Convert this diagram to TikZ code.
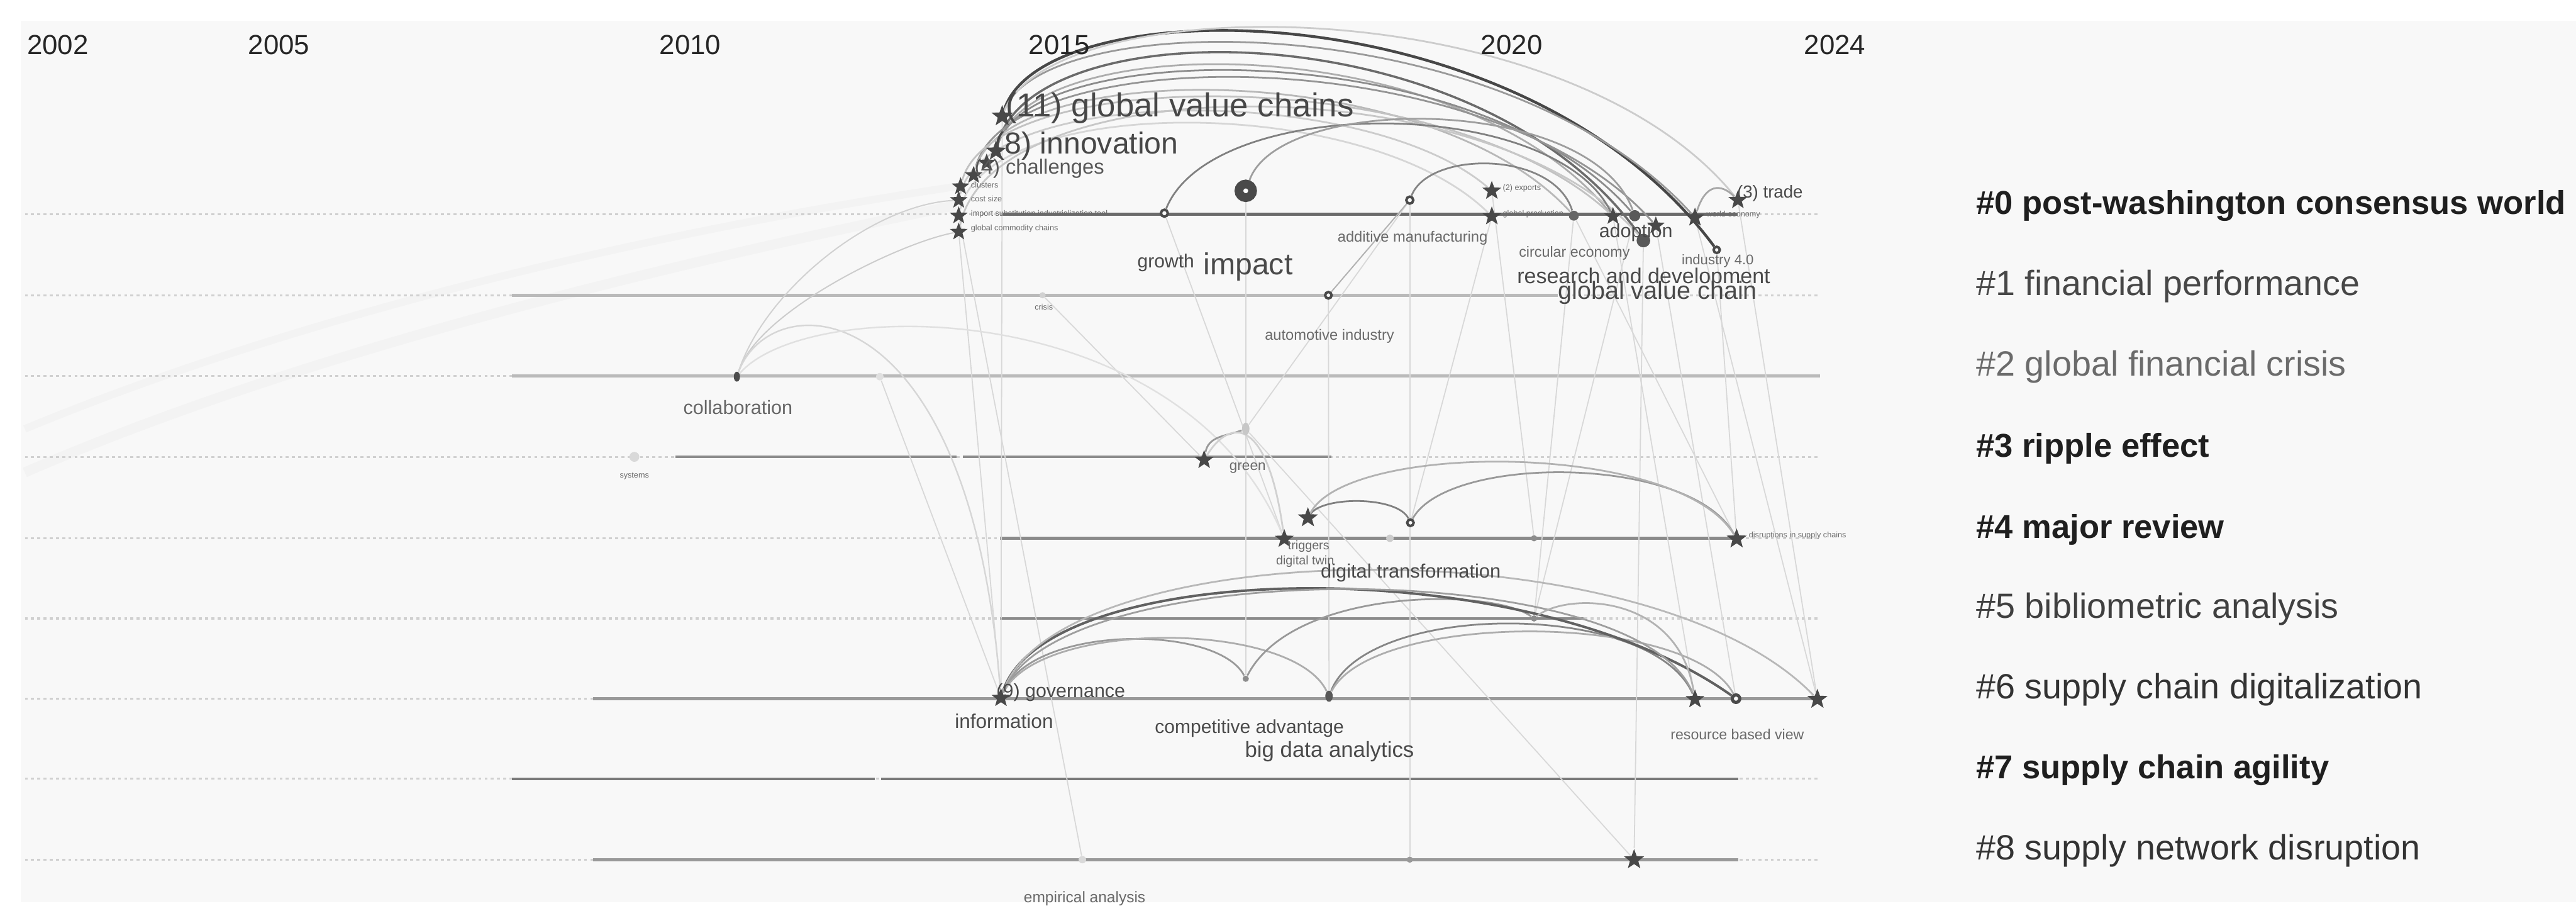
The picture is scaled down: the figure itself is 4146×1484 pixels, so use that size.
\documentclass[tikz,border=0pt]{standalone}
\usepackage{fontspec}
\setmainfont{Liberation Sans}
\usetikzlibrary{shapes.geometric}
\pgfdeclarelayer{bg}
\pgfdeclarelayer{mid}
\pgfsetlayers{bg,mid,main}
\definecolor{panel}{HTML}{F8F8F8}
\definecolor{dotc}{HTML}{D0D0D0}
\definecolor{stargray}{HTML}{484848}
\definecolor{ringc}{HTML}{4A4A4A}
\definecolor{labc}{HTML}{4A4A4A}
\definecolor{smallc}{HTML}{6A6A6A}
\definecolor{faintc}{HTML}{D8D8D8}
\definecolor{bandc}{HTML}{F3F3F3}
\tikzset{
  st/.style={star, star points=5, star point ratio=2.4, fill=stargray, draw=none, inner sep=0pt, minimum size=#1},
  st/.default=8pt,
  ringn/.style={circle, draw=ringc, fill=panel, line width=1pt, inner sep=0pt, minimum size=#1},
  ringn/.default=2.8pt,
  dotn/.style={circle, fill=#1, draw=none, inner sep=0pt, minimum size=3pt},
  lab/.style={font=\fontsize{#1}{#1}\selectfont, inner sep=0pt, anchor=base west, text=labc},
  tlab/.style={font=\fontsize{3.2}{3.2}\selectfont, inner sep=0pt, anchor=west, text=smallc},
  yr/.style={font=\fontsize{11.1}{11.1}\selectfont, inner sep=0pt, anchor=base, text=black!85},
  cb/.style={font=\fontsize{13.3}{13.3}\selectfont\bfseries, inner sep=0pt, anchor=base west, text=#1},
  cn/.style={font=\fontsize{14.1}{14.1}\selectfont, inner sep=0pt, anchor=base west, text=#1},
  dotl/.style={draw=dotc, line width=0.8pt, dash pattern=on 1.2pt off 1.3pt},
  rowl/.style={line width=1.2pt, draw=#1},
  arcl/.style={draw=#1, line width=0.7pt},
  faint/.style={draw=faintc, line width=0.45pt},
}
\begin{document}
\begin{tikzpicture}[x=0.25pt,y=-0.25pt]
\useasboundingbox (0,0) rectangle (4146,1484);
\begin{pgfonlayer}{bg}
\fill[white] (0,0) rectangle (4146,1484);
\fill[panel] (33,33) rectangle (4146,1452);
% faint wide bands on the left
\draw[bandc, line width=4pt] (40,760) .. controls (500,560) and (1100,420) .. (1540,330);
\draw[bandc, line width=3pt] (40,690) .. controls (450,520) and (1000,380) .. (1540,300);
\foreach \yy in {345,475,605,735,866,995,1124,1253,1383} \draw[dotl] (40,\yy) -- (2925,\yy);
\draw[rowl=black!58] (1611,345) -- (2797,345);
\draw[rowl=black!27] (824,475) -- (2507,475);
\draw[rowl=black!27] (824,605) -- (2929,605);
\draw[rowl=black!45] (1087,735) -- (1540,735);
\draw[rowl=black!45] (1550,735) -- (2143,735);
\draw[rowl=black!46] (1609,866) -- (2795,866);
\draw[rowl=black!46] (1609,995) -- (2549,995);
\draw[rowl=black!40] (954,1124) -- (2925,1124);
\draw[rowl=black!52] (824,1253) -- (1408,1253);
\draw[rowl=black!52] (1418,1253) -- (2798,1253);
\draw[rowl=black!40] (954,1383) -- (2798,1383);
\end{pgfonlayer}

% year axis
\node[yr] (y2002) at (93,88) {2002};
\node[yr] (y2005) at (449,88) {2005};
\node[yr] (y2010) at (1111,88) {2010};
\node[yr] (y2015) at (1705,88) {2015};
\node[yr] (y2020) at (2433,88) {2020};
\node[yr] (y2024) at (2953,88) {2024};

% cluster labels
\node[cb=black!88] (c0) at (3180,345) {\#0 post-washington consensus world};
\node[cn=black!72] (c1) at (3180,475) {\#1 financial performance};
\node[cn=black!58] (c2) at (3180,605) {\#2 global financial crisis};
\node[cb=black!88] (c3) at (3180,735) {\#3 ripple effect};
\node[cb=black!88] (c4) at (3180,866) {\#4 major review};
\node[cn=black!75] (c5) at (3180,995) {\#5 bibliometric analysis};
\node[cn=black!80] (c6) at (3180,1124) {\#6 supply chain digitalization};
\node[cb=black!88] (c7) at (3180,1253) {\#7 supply chain agility};
\node[cn=black!80] (c8) at (3180,1383) {\#8 supply network disruption};

% row 0 nodes
\node[st=7.5pt] (s0a) at (1546,300) {};
\node[st=7.5pt] (s0b) at (1543,322) {};
\node[st=7.5pt] (s0c) at (1543,347) {};
\node[st=7.5pt] (s0d) at (1543,373) {};
\node[st=7.5pt] (s0ch) at (1567,282) {};
\node[st=7.5pt] (s0inb) at (1588,262) {};
\node[st=8.5pt] (s0in) at (1603,243) {};
\node[st=9pt] (s0gv) at (1613,187) {};
\node[ringn] (r0g) at (1874,343) {};
\node[circle, draw=ringc, line width=3.5pt, minimum size=5.5pt, inner sep=0pt, fill=white] (r0big) at (2005,307) {};
\node[ringn] (r0am) at (2269,322) {};
\node[st] (s0s) at (2401,307) {};
\node[st] (s0r) at (2401,348) {};
\node[dotn=black!60, minimum size=4pt] (n0ce) at (2533,347) {};
\node[st=7.5pt] (s0ad) at (2596,348) {};
\node[dotn=black!65, minimum size=4.5pt] (n0c) at (2631,347) {};
\node[dotn=black!65, minimum size=5.5pt] (n0big) at (2645,387) {};
\node[st=7.5pt] (s0x) at (2665,363) {};
\node[st] (s0y) at (2728,350) {};
\node[st] (s0tr) at (2797,322) {};
\node[ringn=2.5pt] (n0i4) at (2763,402) {};

\node[tlab] (t0a) at (1562,298) {clusters};
\node[tlab] (t0b) at (1562,320) {cost size};
\node[tlab] (t0c) at (1562,344) {import substitution industrialization tool};
\node[tlab] (t0d) at (1562,368) {global commodity chains};
\node[lab=13.35, text=black!72] (lgv) at (1618,188) {(11) global value chains};
\node[lab=12.2, text=black!72] (lin) at (1600,247) {(8) innovation};
\node[lab=8.3, text=black!65] (lch) at (1568,280) {(4) challenges};
\node[lab=7.6] (lgr) at (1830,431) {growth};
\node[lab=12.2] (lim) at (1936,442) {impact};
\node[lab=6, text=smallc] (lam) at (2152,389) {additive manufacturing};
\node[lab=5.9, text=smallc] (lce) at (2444,413) {circular economy};
\node[lab=7.7] (lad) at (2573,382) {adoption};
\node[lab=5.6, text=smallc] (li4) at (2706,426) {industry 4.0};
\node[lab=8.6] (lrd) at (2441,456) {research and development};
\node[lab=10] (lgvc) at (2507,481) {global value chain};
\node[lab=7] (ltr) at (2795,318) {(3) trade};
\node[tlab] (t0s) at (2418,303) {(2) exports};
\node[tlab] (t0r) at (2418,344) {global production};
\node[tlab] (t0y) at (2746,345) {world economy};

% row 1
\node[dotn=black!18, minimum size=2.5pt] (n1cr) at (1678,475) {};
\node[tlab, anchor=center] (t1cr) at (1680,494) {crisis};
\node[ringn=2.6pt] (r1ai) at (2138,475) {};
\node[lab=6, text=smallc] (lai) at (2035,547) {automotive industry};

% row 2
\node[ellipse, fill=black!70, minimum width=2.5pt, minimum height=4pt, inner sep=0pt] (n2co) at (1186,606) {};
\node[dotn=black!12] (n2f) at (1416,606) {};
\node[lab=7.75, text=black!60] (lco) at (1099,667) {collaboration};

% row 3
\node[dotn=black!15, minimum size=4pt] (n3sy) at (1021,735) {};
\node[tlab, anchor=center] (t3sy) at (1021,766) {systems};
\node[st] (s3g) at (1938,740) {};
\node[lab=5.7, text=smallc] (lgn) at (1978,757) {green};
\node[ellipse, fill=black!22, minimum width=3pt, minimum height=5pt, inner sep=0pt] (n3f) at (2005,690) {};

% row 4
\node[st] (s4a) at (2067,867) {};
\node[st=8.5pt] (s4b) at (2105,833) {};
\node[dotn=black!20] (n4f) at (2237,866) {};
\node[ringn=2.6pt] (r4) at (2270,841) {};
\node[dotn=black!45, minimum size=2.5pt] (n4s) at (2469,866) {};
\node[st=8.5pt] (s4e) at (2795,867) {};
\node[lab=5, text=smallc] (l4a) at (2072,884) {triggers};
\node[lab=5, text=smallc] (ldt) at (2053,908) {digital twin};
\node[lab=7.8] (ldtr) at (2125,930) {digital transformation};
\node[tlab] (t4e) at (2814,862) {disruptions in supply chains};

% row 5
\node[dotn=black!45, minimum size=2.5pt] (n5) at (2469,995) {};

% row 6
\node[st] (s6g) at (1611,1123) {};
\node[dotn=black!45, minimum size=2.5pt] (n6a) at (2005,1092) {};
\node[ellipse, fill=black!65, minimum width=3pt, minimum height=4.5pt, inner sep=0pt] (n6b) at (2139,1120) {};
\node[st] (s6c) at (2728,1125) {};
\node[ringn=3pt, line width=1.3pt] (r6d) at (2794,1124) {};
\node[st=8.5pt] (s6e) at (2925,1125) {};
\node[lab=7.7] (lgo) at (1603,1122) {(9) governance};
\node[lab=8] (lif) at (1536,1172) {information};
\node[lab=7.6] (lca) at (1858,1180) {competitive advantage};
\node[lab=8.8] (lbd) at (2003,1218) {big data analytics};
\node[lab=5.85, text=smallc] (lrb) at (2688,1190) {resource based view};

% row 8
\node[dotn=black!15] (n8a) at (1742,1383) {};
\node[dotn=black!40, minimum size=2.5pt] (n8b) at (2269,1383) {};
\node[st=8.5pt] (s8) at (2630,1383) {};
\node[lab=6.2, text=smallc] (lea) at (1647,1452) {empirical analysis};

\begin{pgfonlayer}{mid}
% faint straight links
\draw[faint] (s0gv) -- (s6g);
\draw[faint] (s0d) -- (s6g);
\draw[faint] (r0big) -- (n6a);
\draw[faint] (n0big) -- (s8);
\draw[faint] (r1ai) -- (n6b);
\draw[faint] (s0s) -- (n4s);
\draw[faint] (n0ce) -- (n5);
\draw[faint] (s0ad) -- (s6c);
\draw[faint] (s0r) -- (r4);
\draw[faint] (r0am) -- (n8b);
\draw[faint] (n1cr) -- (s3g);
\draw[faint] (s0y) -- (s6e);
\draw[faint] (n0i4) -- (s4e);
\draw[faint] (r0g) -- (s4a);
\draw[faint] (s0c) -- (n8a);
\draw[faint] (n3f) -- (s8);
\draw[faint] (n2f) -- (s6g);
\draw[faint] (n0ce) -- (s4e);
\draw[faint] (s0x) -- (r6d);
\draw[faint] (s0tr) -- (s6e);
\draw[faint] (r0am) -- (n3f);
\draw[faint] (n0c) -- (n5);
\draw[arcl=black!30, line width=0.5pt] (r1ai) -- (r0am);
% faint arcs from the left
\draw[arcl=black!20, line width=0.5pt] (n2co) .. controls (1220,500) and (1450,390) .. (s0d);
\draw[arcl=black!18, line width=0.5pt] (n2co) .. controls (1230,470) and (1400,330) .. (s0b);
\draw[arcl=black!16, line width=0.6pt] (n2co) .. controls (1240,458) and (1560,458) .. (s6g);
\draw[arcl=black!12, line width=0.6pt] (n2co) .. controls (1300,474) and (1900,474) .. (s4a);
% row 0 arcs
\draw[arcl=black!72, line width=1.1pt] (s0gv) .. controls (1680,-20) and (2450,-20) .. (n0i4);
\draw[arcl=black!40] (s0gv) .. controls (1680,10) and (2420,10) .. (s0y);
\draw[arcl=black!20] (s0gv) .. controls (1700,-20) and (2520,-20) .. (s0tr);
\draw[arcl=black!58, line width=0.9pt] (s0in) .. controls (1660,15) and (2380,15) .. (n0big);
\draw[arcl=black!32] (s0in) .. controls (1660,45) and (2350,45) .. (s0ad);
\draw[arcl=black!45] (s0in) .. controls (1660,58) and (2380,58) .. (n0c);
\draw[arcl=black!42] (s0ch) .. controls (1620,62) and (2400,62) .. (s0x);
\draw[arcl=black!28] (s0ch) .. controls (1620,92) and (2300,92) .. (n0ce);
\draw[arcl=black!24] (s0a) .. controls (1600,102) and (2330,102) .. (s0ad);
\draw[arcl=black!20] (s0b) .. controls (1590,135) and (2200,135) .. (s0s);
\draw[arcl=black!16] (s0c) .. controls (1590,150) and (2200,150) .. (s0r);
\draw[arcl=black!22] (s0d) .. controls (1600,105) and (2400,105) .. (n0big);
\draw[arcl=black!50] (r0g) .. controls (1950,152) and (2500,152) .. (s0ad);
\draw[arcl=black!38] (r0big) .. controls (2060,151) and (2560,151) .. (n0c);
\draw[arcl=black!48] (r0am) .. controls (2300,242) and (2500,242) .. (n0ce);
\draw[arcl=black!35] (s0y) .. controls (2745,295) and (2770,295) .. (s0tr);
% row 3 / 4 arcs
\draw[arcl=black!40] (s3g) to[out=80,in=200] (n3f);
\draw[arcl=black!18] (s3g) .. controls (1980,671) and (2040,671) .. (s4a);
\draw[arcl=black!50] (s4b) .. controls (2130,798) and (2250,798) .. (r4);
\draw[arcl=black!40] (r4) .. controls (2330,731) and (2720,731) .. (s4e);
\draw[arcl=black!30] (s4b) .. controls (2170,710) and (2700,710) .. (s4e);
% row 6 arcs
\draw[arcl=black!40] (s6g) .. controls (1660,1004) and (1960,1004) .. (n6a);
\draw[arcl=black!32] (s6g) .. controls (1670,997) and (2080,997) .. (n6b);
\draw[arcl=black!40] (n6a) .. controls (2080,945) and (2400,945) .. (n5);
\draw[arcl=black!48] (n6b) .. controls (2200,966) and (2660,966) .. (s6c);
\draw[arcl=black!32] (n6b) .. controls (2210,983) and (2720,983) .. (r6d);
\draw[arcl=black!62, line width=1pt] (s6g) .. controls (1680,900) and (2450,880) .. (r6d);
\draw[arcl=black!28] (s6g) .. controls (1700,860) and (2650,840) .. (s6e);
\draw[arcl=black!38] (s6g) .. controls (1700,892) and (2640,892) .. (s6c);
\draw[arcl=black!30] (n5) .. controls (2520,953) and (2700,953) .. (s6c);
\end{pgfonlayer}
\end{tikzpicture}
\end{document}
